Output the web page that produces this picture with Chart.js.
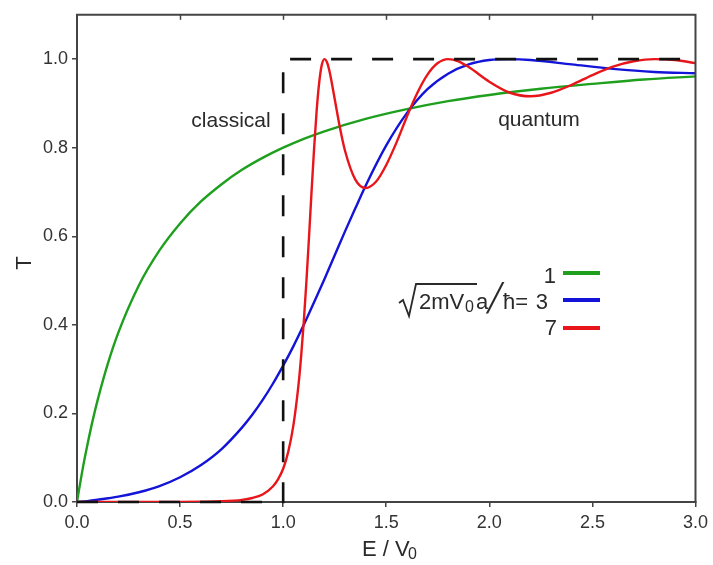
<!DOCTYPE html>
<html><head><meta charset="utf-8">
<script src="https://cdn.jsdelivr.net/npm/chart.js@4.4.1/dist/chart.umd.min.js"></script>
<style>html,body{margin:0;padding:0;background:#fff;} #c{display:block;}</style>
</head><body>
<canvas id="c" width="713" height="565"></canvas>
<script>
// ---- data ----
const xTicks = [0, 0.5, 1.0, 1.5, 2.0, 2.5, 3.0];
const yTicks = [0, 0.2, 0.4, 0.6, 0.8, 1.0];

const eGreen = [0, 0.01, 0.02, 0.03, 0.05, 0.075, 0.1, 0.15, 0.2, 0.3, 0.4, 0.5, 0.6, 0.7, 0.8, 0.9, 1.0, 1.1, 1.2, 1.4, 1.6, 1.8, 2.0, 2.25, 2.5, 2.75, 3.0];
const tGreen = [0, 0.028, 0.055, 0.081, 0.128, 0.182, 0.230, 0.313, 0.382, 0.489, 0.568, 0.629, 0.678, 0.717, 0.750, 0.777, 0.800, 0.820, 0.837, 0.865, 0.887, 0.905, 0.919, 0.933, 0.944, 0.954, 0.961];

const eBlue = [0, 0.05, 0.1, 0.2, 0.3, 0.4, 0.5, 0.6, 0.7, 0.8, 0.85, 0.9, 0.95, 1.0, 1.05, 1.1, 1.15, 1.2, 1.25, 1.3, 1.35, 1.4, 1.5, 1.6, 1.7, 1.8, 1.9, 2.0, 2.1, 2.2, 2.4, 2.6, 2.8, 3.0];
const tBlue = [0, 0.002, 0.005, 0.012, 0.022, 0.036, 0.056, 0.083, 0.119, 0.168, 0.197, 0.230, 0.267, 0.308, 0.352, 0.400, 0.451, 0.503, 0.557, 0.611, 0.663, 0.714, 0.805, 0.878, 0.932, 0.967, 0.988, 0.998, 1.000, 0.998, 0.988, 0.978, 0.971, 0.968];

const eRed = [0, 0.5, 0.6, 0.7, 0.8, 0.85, 0.9, 0.95, 0.975, 1.0, 1.025, 1.05, 1.075, 1.0875, 1.1, 1.1125, 1.125, 1.1375, 1.15, 1.1625, 1.175, 1.1875, 1.2, 1.2125, 1.225, 1.25, 1.275, 1.3, 1.35, 1.4, 1.45, 1.5, 1.55, 1.6, 1.65, 1.7, 1.75, 1.8, 1.85, 1.9, 2.0, 2.1, 2.2, 2.3, 2.4, 2.5, 2.6, 2.7, 2.8, 2.9, 3.0];
const tRed = [0, 0.0002, 0.0006, 0.0016, 0.0049, 0.009, 0.017, 0.035, 0.051, 0.075, 0.114, 0.174, 0.267, 0.331, 0.407, 0.496, 0.595, 0.699, 0.798, 0.884, 0.948, 0.987, 1.000, 0.993, 0.972, 0.910, 0.846, 0.793, 0.728, 0.709, 0.723, 0.761, 0.812, 0.870, 0.923, 0.965, 0.991, 1.000, 0.995, 0.982, 0.949, 0.924, 0.916, 0.924, 0.942, 0.964, 0.983, 0.995, 1.000, 0.998, 0.991];

const eClassical = [0, 1, 1, 3];
const tClassical = [0, 0, 1, 1];

const legendValues = ['1', '3', '7'];
const seriesColors = ['#1ea01e', '#1414d8', '#e8161b'];

// ---- chart ----
const FF = '"Liberation Sans", Arial, Helvetica, sans-serif';
const pts = (xs, ys) => xs.map((x, i) => ({x: x, y: ys[i]}));

const deco = {
  id: 'deco',
  afterDraw(chart) {
    const c = chart.ctx, a = chart.chartArea, xs = chart.scales.x;
    c.save();
    // frame top/right
    c.strokeStyle = '#444'; c.lineWidth = 2;
    c.beginPath(); c.moveTo(a.left - 1, a.top); c.lineTo(a.right, a.top); c.lineTo(a.right, a.bottom + 1); c.stroke();
    // inward top ticks
    c.lineWidth = 1.5;
    xTicks.slice(1, -1).forEach(v => {
      const px = Math.round(xs.getPixelForValue(v)) + 0.5;
      c.beginPath(); c.moveTo(px, a.top); c.lineTo(px, a.top + 5); c.stroke();
    });
    // annotations
    c.fillStyle = '#2a2a2a';
    c.textBaseline = 'alphabetic';
    c.textAlign = 'center';
    c.font = '21px ' + FF;
    c.fillText('classical', 231, 127);
    c.fillText('quantum', 539, 126);
    // axis titles
    c.font = '22px ' + FF;
    c.save();
    c.translate(31, 263); c.rotate(-Math.PI / 2);
    c.fillText('T', 0, 0);
    c.restore();
    c.textAlign = 'left';
    c.fillText('E / V', 362, 556);
    c.font = '16px ' + FF;
    c.fillText('0', 408, 559);
    // legend formula
    c.strokeStyle = '#2a2a2a'; c.lineWidth = 1.8;
    c.beginPath();
    c.moveTo(399, 303); c.lineTo(403, 300); c.lineTo(409, 316); c.lineTo(416, 284); c.lineTo(477, 284);
    c.stroke();
    c.font = '22px ' + FF;
    c.fillText('2mV', 419, 309);
    c.font = '16px ' + FF;
    c.fillText('0', 465, 312);
    c.font = '22px ' + FF;
    c.fillText('a', 476, 309);
    c.font = '27px "DejaVu Sans Mono", monospace';
    c.fillText('\u2571', 487, 307);
    c.font = '22px ' + FF;
    c.fillText('\u0127=', 503, 309);
    // legend entries
    const baselines = [283, 309, 335];
    const lineYs = [273, 300, 328];
    const rightEdges = [556, 548, 557];
    c.textAlign = 'right';
    legendValues.forEach((v, i) => {
      c.fillStyle = '#2a2a2a';
      c.fillText(v, rightEdges[i], baselines[i]);
      c.strokeStyle = seriesColors[i]; c.lineWidth = 4;
      c.beginPath(); c.moveTo(563, lineYs[i]); c.lineTo(600, lineYs[i]); c.stroke();
    });
    c.restore();
  }
};

const axisCommon = {
  type: 'linear',
  grid: {display: true, drawOnChartArea: false, drawTicks: true, tickLength: 5, color: '#444', lineWidth: 1.5},
  border: {display: true, color: '#444', width: 2},
  ticks: {font: {family: FF, size: 18}, color: '#333', callback: v => Number(v).toFixed(1), maxRotation: 0, autoSkip: false}
};

new Chart(document.getElementById('c').getContext('2d'), {
  type: 'scatter',
  data: {
    datasets: [
      {label: 'classical', data: pts(eClassical, tClassical), showLine: true, borderColor: '#111', borderWidth: 2.6, borderDash: [21, 20], pointRadius: 0, tension: 0, order: 0, clip: false},
      {label: legendValues[2], data: pts(eRed, tRed), showLine: true, borderColor: seriesColors[2], borderWidth: 2.4, pointRadius: 0, cubicInterpolationMode: 'monotone', order: 1},
      {label: legendValues[1], data: pts(eBlue, tBlue), showLine: true, borderColor: seriesColors[1], borderWidth: 2.4, pointRadius: 0, cubicInterpolationMode: 'monotone', order: 2},
      {label: legendValues[0], data: pts(eGreen, tGreen), showLine: true, borderColor: seriesColors[0], borderWidth: 2.4, pointRadius: 0, cubicInterpolationMode: 'monotone', order: 3}
    ]
  },
  options: {
    responsive: false, animation: false, devicePixelRatio: 1,
    layout: {padding: {top: 13, right: 16, left: 0, bottom: 0}},
    plugins: {legend: {display: false}, tooltip: {enabled: false}},
    scales: {
      x: Object.assign({}, axisCommon, {
        min: 0, max: 3, position: 'bottom',
        afterBuildTicks: s => { s.ticks = xTicks.map(v => ({value: v})); },
        afterFit: s => { s.height = 63; },
        ticks: Object.assign({}, axisCommon.ticks, {padding: 5})
      }),
      y: Object.assign({}, axisCommon, {
        min: 0, max: 1.1, position: 'left',
        afterBuildTicks: s => { s.ticks = yTicks.map(v => ({value: v})); },
        afterFit: s => { s.width = 77; },
        ticks: Object.assign({}, axisCommon.ticks, {padding: 4})
      })
    }
  },
  plugins: [deco]
});
</script>
</body></html>
